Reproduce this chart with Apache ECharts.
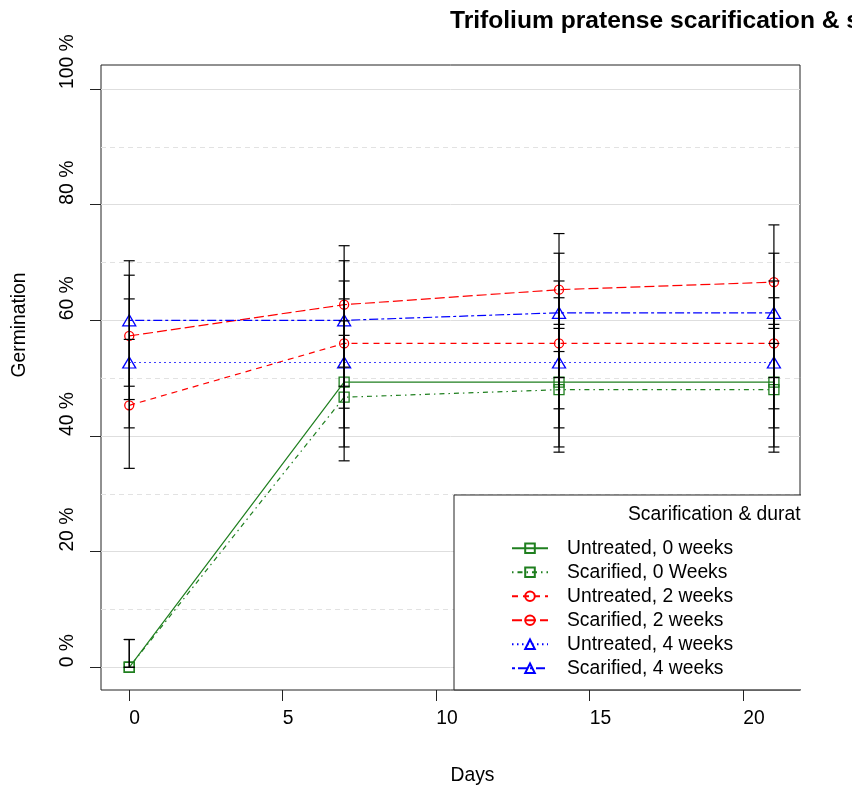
<!DOCTYPE html>
<html><head><meta charset="utf-8">
<script src="https://cdn.jsdelivr.net/npm/echarts@6/dist/echarts.min.js"></script>
<style>html,body{margin:0;padding:0;background:#fff;overflow:hidden}#chart{width:852px;height:792px}</style>
</head><body><div id="chart"></div><script>
// ---- data ----
const days = [0, 7, 14, 21];
const xTickValues = [0, 5, 10, 15, 20];
const yTickValues = [0, 20, 40, 60, 80, 100];
const yMinorGrid = [10, 30, 50, 70, 90];
const seriesNames = ['Untreated, 0 weeks', 'Scarified, 0 Weeks', 'Untreated, 2 weeks',
                     'Scarified, 2 weeks', 'Untreated, 4 weeks', 'Scarified, 4 weeks'];
const untreated0 = [0, 49.3, 49.3, 49.3];
const scarified0 = [0, 46.7, 48.0, 48.0];
const untreated2 = [45.3, 56.0, 56.0, 56.0];
const scarified2 = [57.3, 62.7, 65.3, 66.6];
const untreated4 = [52.7, 52.7, 52.7, 52.7];
const scarified4 = [60.0, 60.0, 61.3, 61.3];
const untreated0Low  = [0, 38.1, 38.1, 38.1];
const untreated0High = [4.8, 59.9, 59.3, 59.3];
const scarified0Low  = [0, 35.7, 37.2, 37.2];
const scarified0High = [4.8, 57.4, 58.6, 58.6];
const untreated2Low  = [34.4, 44.8, 44.7, 44.7];
const untreated2High = [56.7, 66.8, 66.8, 66.8];
const scarified2Low  = [46.3, 51.9, 54.6, 56.0];
const scarified2High = [67.8, 72.9, 75.0, 76.5];
const untreated4Low  = [41.4, 41.4, 41.4, 41.4];
const untreated4High = [63.7, 63.7, 63.9, 63.9];
const scarified4Low  = [48.6, 48.6, 50.1, 50.1];
const scarified4High = [70.3, 70.3, 71.6, 71.6];

// ---- styles ----
const FONT = '"Liberation Sans", Arial, sans-serif';
const FS = 19.3;
const GREEN = '#1f7f1f', RED = '#ff0000', BLUE = '#0000ff';
const specs = [
  {name: seriesNames[0], vals: untreated0, lo: untreated0Low, hi: untreated0High, color: GREEN, dash: 'solid', symbol: 'rect', size: 10},
  {name: seriesNames[1], vals: scarified0, lo: scarified0Low, hi: scarified0High, color: GREEN, dash: [1.5, 4, 5, 4], symbol: 'rect', size: 10},
  {name: seriesNames[2], vals: untreated2, lo: untreated2Low, hi: untreated2High, color: RED, dash: [6, 5], symbol: 'circle', size: 9},
  {name: seriesNames[3], vals: scarified2, lo: scarified2Low, hi: scarified2High, color: RED, dash: [10, 4], symbol: 'circle', size: 9},
  {name: seriesNames[4], vals: untreated4, lo: untreated4Low, hi: untreated4High, color: BLUE, dash: [1.5, 3.5], symbol: 'triangle', size: [13, 11]},
  {name: seriesNames[5], vals: scarified4, lo: scarified4Low, hi: scarified4High, color: BLUE, dash: [3, 3, 9, 3], symbol: 'triangle', size: [13, 11]}
];

const lineSeries = specs.map(s => ({
  name: s.name, type: 'line', clip: false,
  data: days.map((d, i) => [d, s.vals[i]]),
  symbol: s.symbol, symbolSize: s.size, showAllSymbol: true,
  lineStyle: {color: s.color, width: 1.2, type: s.dash},
  itemStyle: {color: 'rgba(255,255,255,0)', borderColor: s.color, borderWidth: 1.3},
  emphasis: {disabled: true}, animation: false, z: 3
}));

const errorSeries = {
  type: 'custom', clip: false, silent: true, animation: false, z: 4,
  encode: {x: 0, y: [1, 2]},
  data: specs.flatMap(s => days.map((d, i) => [d, s.lo[i], s.hi[i]])),
  renderItem: function (params, api) {
    const x = api.value(0);
    const pLo = api.coord([x, api.value(1)]);
    const pHi = api.coord([x, api.value(2)]);
    const hw = 5.5;
    const st = {stroke: '#000', lineWidth: 1.2};
    return {type: 'group', children: [
      {type: 'line', shape: {x1: pLo[0], y1: pLo[1], x2: pHi[0], y2: pHi[1]}, style: st},
      {type: 'line', shape: {x1: pLo[0] - hw, y1: pLo[1], x2: pLo[0] + hw, y2: pLo[1]}, style: st},
      {type: 'line', shape: {x1: pHi[0] - hw, y1: pHi[1], x2: pHi[0] + hw, y2: pHi[1]}, style: st}
    ]};
  }
};

const gridSeries = {
  type: 'line', data: [[-100, -100]], symbol: 'none', silent: true,
  lineStyle: {opacity: 0}, animation: false, z: 1,
  markLine: {
    silent: true, symbol: ['none', 'none'], label: {show: false}, animation: false, z: 1,
    data: yTickValues.map(v => ({yAxis: v, lineStyle: {color: '#dedede', width: 1, type: 'solid'}}))
      .concat(yMinorGrid.map(v => ({yAxis: v, lineStyle: {color: '#e2e2e2', width: 1, type: [5, 4]}})))
  }
};

const chart = echarts.init(document.getElementById('chart'), null, {renderer: 'canvas'});
chart.setOption({
  backgroundColor: '#fff',
  animation: false,
  title: {
    text: 'Trifolium pratense scarification & stratification',
    left: 450, top: 9, padding: 0,
    textStyle: {fontFamily: FONT, fontSize: 24.6, fontWeight: 'bold', color: '#000'}
  },
  grid: {left: 101, right: 52, top: 65, bottom: 102, show: true, borderColor: '#222', borderWidth: 1, backgroundColor: 'transparent'},
  xAxis: {
    type: 'value', min: -0.92, max: 21.85,
    axisLine: {show: false, onZero: false},
    axisTick: {show: true, length: 11, customValues: xTickValues, lineStyle: {color: '#222'}},
    axisLabel: {show: true, customValues: xTickValues, align: 'left', margin: 19, fontFamily: FONT, fontSize: FS, color: '#000'},
    splitLine: {show: false},
    name: 'Days', nameLocation: 'middle', nameGap: 76,
    nameTextStyle: {fontFamily: FONT, fontSize: FS, color: '#000', align: 'left'}
  },
  yAxis: {
    type: 'value', min: -3.93, max: 104.15,
    axisLine: {show: false, onZero: false},
    axisTick: {show: true, length: 11, customValues: yTickValues, lineStyle: {color: '#222'}},
    axisLabel: {show: true, customValues: yTickValues, rotate: 90, align: 'left', verticalAlign: 'middle', margin: 33.5,
                fontFamily: FONT, fontSize: FS, color: '#000', formatter: v => v + ' %'},
    splitLine: {show: false},
    name: 'Germination', nameLocation: 'middle', nameGap: 72,
    nameTextStyle: {fontFamily: FONT, fontSize: FS, color: '#000', align: 'left'}
  },
  legend: {
    show: true, orient: 'vertical', left: 454, top: 495,
    padding: [43.6, 80, 12, 57],
    backgroundColor: '#fff', borderColor: '#222', borderWidth: 1,
    itemWidth: 36, itemHeight: 12, itemGap: 4.7,
    textStyle: {fontFamily: FONT, fontSize: FS, lineHeight: FS, color: '#000', padding: [0, 0, 0, 14]},
    data: seriesNames,
    selectedMode: false
  },
  graphic: [
    {type: 'text', z: 50, left: 628, top: 505,
     style: {text: 'Scarification & duration', fontFamily: FONT, fontSize: FS, fill: '#000'}},
    {type: 'rect', z: 60, left: 801, top: 40, shape: {width: 60, height: 760}, style: {fill: '#fff'}}
  ],
  series: [gridSeries].concat(lineSeries).concat([errorSeries])
});
</script></body></html>
